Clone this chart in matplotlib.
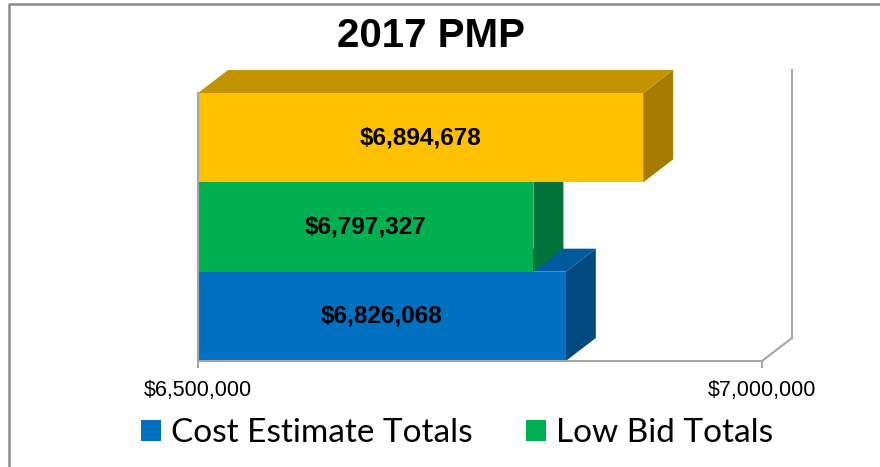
import matplotlib.pyplot as plt
from matplotlib.patches import Polygon, Rectangle, Patch
from matplotlib.lines import Line2D

# data
series = ['Cost Estimate Totals', 'Low Bid Totals', 'Third Series']
values = [6826068, 6797327, 6894678]
front_colors = ['#0070C0', '#00B050', '#FFC000']
top_colors = ['#00599C', '#008A40', '#C49400']
side_colors = ['#004A80', '#00733A', '#A67C00']
x_ticks = [6500000, 7000000]
x_tick_labels = ['$6,500,000', '$7,000,000']

x0, x1 = 6500000, 7000000
# pixel geometry of the reference
px_left, px_right = 198, 762
px_bottom, bar_px = 361, 268 / 3
dx = 30 / (px_right - px_left) * (x1 - x0)
dy = 23 / bar_px

narrow = ['Liberation Sans', 'DejaVu Sans']

fig = plt.figure(figsize=(8.8, 4.67), dpi=100)
W, H = 880, 467
ax_w, ax_h = 800 - px_left, px_bottom - 62
ax = fig.add_axes([px_left / W, (H - px_bottom) / H, ax_w / W, ax_h / H])
ax.set_xlim(x0, x0 + ax_w / (px_right - px_left) * (x1 - x0))
ax.set_ylim(0, ax_h / bar_px)
ax.axis('off')

wall = '#A6A6A6'
# walls / floor lines
ax.plot([x1 + dx, x1 + dx], [dy, 3 + dy], color=wall, lw=1.5, clip_on=False)
ax.plot([x1, x1 + dx], [0, dy], color=wall, lw=1.5, clip_on=False)
ax.plot([x0, x1], [0, 0], color=wall, lw=1.5, clip_on=False)
ax.plot([x0, x0], [-0.07, 3], color=wall, lw=1.5, clip_on=False)
ax.plot([x1, x1], [-0.07, 0], color=wall, lw=1.5, clip_on=False)

# 3d bars, bottom to top
for i, v in enumerate(values):
    y0, y1 = i, i + 1
    side = [(v, y0), (v + dx, y0 + dy), (v + dx, y1 + dy), (v, y1)]
    top = [(x0, y1), (v, y1), (v + dx, y1 + dy), (x0 + dx, y1 + dy)]
    ax.add_patch(Polygon(side, closed=True, fc=side_colors[i], ec='none'))
    ax.add_patch(Polygon(top, closed=True, fc=top_colors[i], ec='none'))
    ax.add_patch(Rectangle((x0, y0), v - x0, 1, fc=front_colors[i], ec='none'))
    ax.text((x0 + v) / 2, i + 0.5, '${:,}'.format(v), ha='center', va='center',
            fontsize=17.5, fontweight='bold', family=narrow)

for t, lab in zip(x_ticks, x_tick_labels):
    ax.text(t, -0.33, lab, ha='center', va='center', fontsize=15.5, family=narrow)

fig.text(431 / W, 1 - 36 / H, '2017 PMP', ha='center', va='center', fontsize=29,
         fontweight='bold', family=narrow)

handles = [Patch(fc=front_colors[0], ec='none'), Patch(fc=front_colors[1], ec='none')]
fig.legend(handles, series[:2], loc='center', bbox_to_anchor=(457 / W, 1 - 433 / H), ncol=2,
           frameon=False, handlelength=0.6, handleheight=0.6,
           handletextpad=0.3, columnspacing=1.6, prop={'family': 'Lato', 'size': 24})

# outer frame (top and left edges only)
fig.add_artist(Line2D([8.5 / W, 8.5 / W, 1], [0, 1 - 3.5 / H, 1 - 3.5 / H],
                      transform=fig.transFigure, color='#8C8C8C', lw=1.8))

fig.savefig('out.png', dpi=100)
